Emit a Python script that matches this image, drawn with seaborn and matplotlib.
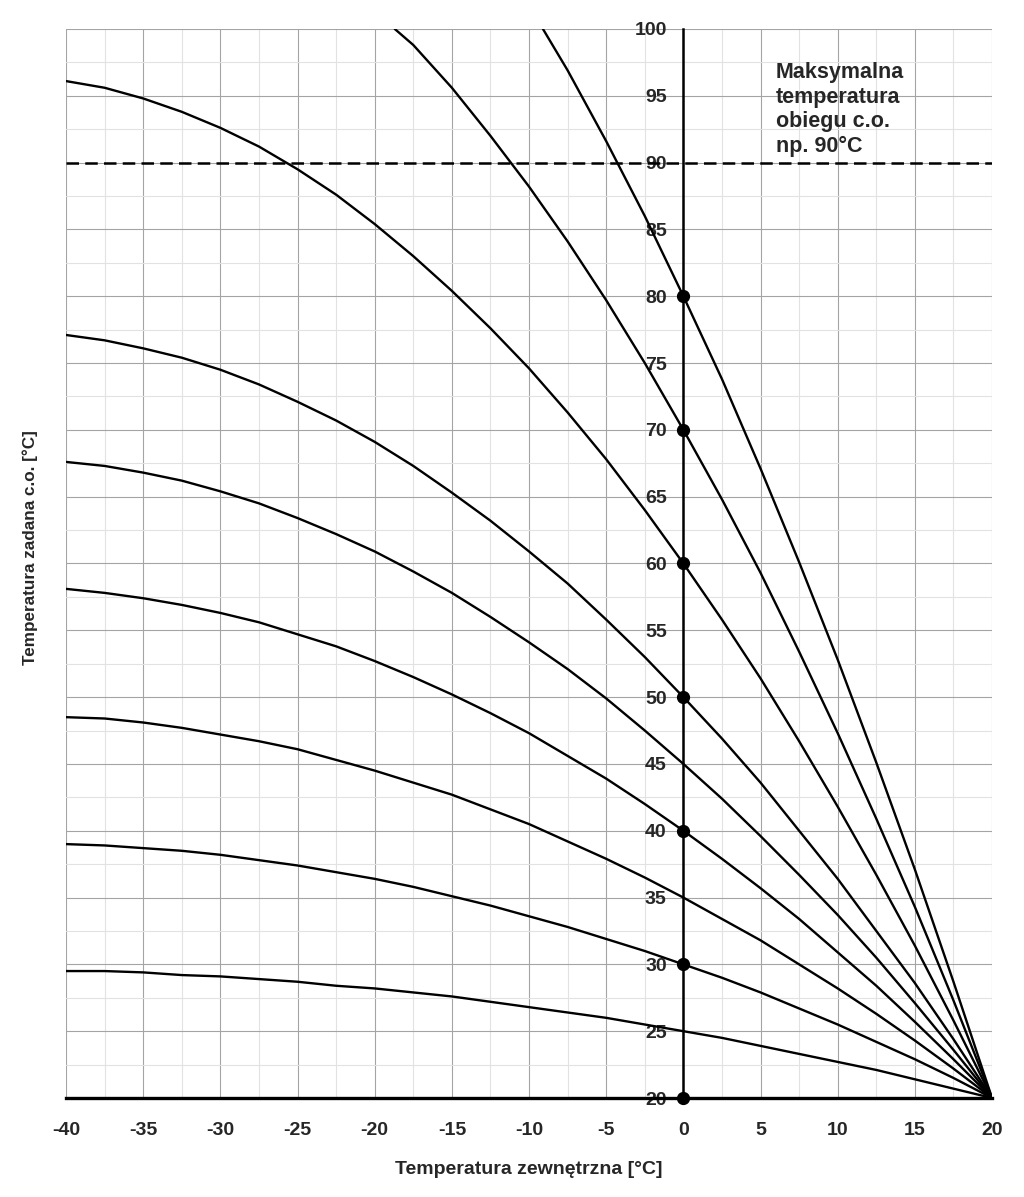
import numpy as np
import pandas as pd
import matplotlib
matplotlib.use('Agg')
import matplotlib.pyplot as plt
import seaborn as sns
from matplotlib.ticker import MultipleLocator

# temperatura zewnetrzna - punkty odczytu co 2.5 st.C
x_full = [-40, -37.5, -35, -32.5, -30, -27.5, -25, -22.5, -20, -17.5, -15, -12.5, -10,
          -7.5, -5, -2.5, 0, 2.5, 5, 7.5, 10, 12.5, 15, 17.5, 20]

# krzywe grzewcze (wartosci)
k25 = [29.5, 29.5, 29.4, 29.2, 29.1, 28.9, 28.7, 28.4, 28.2, 27.9, 27.6, 27.2, 26.8,
       26.4, 26.0, 25.5, 25.0, 24.5, 23.9, 23.3, 22.7, 22.1, 21.4, 20.7, 20.0]
k30 = [39.0, 38.9, 38.7, 38.5, 38.2, 37.8, 37.4, 36.9, 36.4, 35.8, 35.1, 34.4, 33.6,
       32.8, 31.9, 31.0, 30.0, 29.0, 27.9, 26.7, 25.5, 24.2, 22.9, 21.5, 20.0]
k35 = [48.5, 48.4, 48.1, 47.7, 47.2, 46.7, 46.1, 45.3, 44.5, 43.6, 42.7, 41.6, 40.5,
       39.2, 37.9, 36.5, 35.0, 33.4, 31.8, 30.0, 28.2, 26.3, 24.3, 22.2, 20.0]
k40 = [58.1, 57.8, 57.4, 56.9, 56.3, 55.6, 54.7, 53.8, 52.7, 51.5, 50.2, 48.8, 47.3,
       45.6, 43.9, 42.0, 40.0, 37.9, 35.7, 33.4, 30.9, 28.4, 25.7, 22.9, 20.0]
k45 = [67.6, 67.3, 66.8, 66.2, 65.4, 64.5, 63.4, 62.2, 60.9, 59.4, 57.8, 56.0, 54.1,
       52.1, 49.9, 47.5, 45.0, 42.4, 39.6, 36.7, 33.7, 30.5, 27.1, 23.6, 20.0]
k50 = [77.1, 76.7, 76.1, 75.4, 74.5, 73.4, 72.1, 70.7, 69.1, 67.3, 65.3, 63.2, 60.9,
       58.5, 55.8, 53.0, 50.0, 46.9, 43.6, 40.0, 36.4, 32.5, 28.6, 24.4, 20.0]
k60 = [96.1, 95.6, 94.8, 93.8, 92.6, 91.2, 89.5, 87.6, 85.4, 83.0, 80.4, 77.6, 74.6,
       71.3, 67.8, 64.0, 60.0, 55.8, 51.4, 46.7, 41.8, 36.7, 31.4, 25.8, 20.0]
# dwie najbardziej strome krzywe wychodza poza wykres u gory
x70 = [-18.7, -17.5, -15, -12.5, -10, -7.5, -5, -2.5, 0, 2.5, 5, 7.5, 10, 12.5, 15, 17.5, 20]
k70 = [100.0, 98.8, 95.6, 92.0, 88.2, 84.1, 79.7, 75.0, 70.0, 64.8, 59.3, 53.4, 47.3,
       40.9, 34.3, 27.3, 20.0]
x80 = [-9.1, -7.5, -5, -2.5, 0, 2.5, 5, 7.5, 10, 12.5, 15, 17.5, 20]
k80 = [100.0, 96.9, 91.6, 86.0, 80.0, 73.8, 67.1, 60.1, 52.8, 45.1, 37.1, 28.7, 20.0]

# punkty na osi 0 st.C
dot_y = [20, 30, 40, 50, 60, 70, 80]
t_max = 90

rows = []
for name, xs, ys in [('25', x_full, k25), ('30', x_full, k30), ('35', x_full, k35),
                     ('40', x_full, k40), ('45', x_full, k45), ('50', x_full, k50),
                     ('60', x_full, k60), ('70', x70, k70), ('80', x80, k80)]:
    for a, b in zip(xs, ys):
        rows.append({'krzywa': name, 'tz': a, 'tco': b})
df = pd.DataFrame(rows)

sns.set_style('white')
plt.rcParams['font.family'] = ['Liberation Sans', 'DejaVu Sans']
plt.rcParams['font.weight'] = 'bold'
plt.rcParams['axes.unicode_minus'] = False

fig = plt.figure(figsize=(10.24, 11.97), dpi=100)
ax = fig.add_axes([0.0645, 0.0827, 0.9043, 0.8931])

ax.set_xlim(-40, 20)
ax.set_ylim(20, 100)
ax.xaxis.set_major_locator(MultipleLocator(5))
ax.xaxis.set_minor_locator(MultipleLocator(2.5))
ax.yaxis.set_major_locator(MultipleLocator(5))
ax.yaxis.set_minor_locator(MultipleLocator(2.5))
ax.grid(which='major', color='#a4a4a4', linewidth=0.8)
ax.grid(which='minor', color='#e2e2e2', linewidth=0.8)
ax.set_axisbelow(True)

sns.lineplot(data=df, x='tz', y='tco', units='krzywa', estimator=None, sort=False,
             color='black', linewidth=1.7, ax=ax)

ax.axhline(t_max, color='black', linewidth=1.8, linestyle=(0, (5, 2.5)), zorder=3)
ax.plot([0] * len(dot_y), dot_y, 'o', color='black', markersize=8.5, zorder=5, clip_on=False)

# os y przesunieta na 0 st.C
ax.spines['left'].set_position(('data', 0))
ax.spines['left'].set_color('black')
ax.spines['left'].set_linewidth(1.8)
ax.spines['bottom'].set_color('black')
ax.spines['bottom'].set_linewidth(2.4)
ax.spines['top'].set_visible(False)
ax.spines['right'].set_visible(False)

ax.set_xticks(range(-40, 21, 5))
ax.set_xticklabels([str(v) for v in range(-40, 21, 5)])
ax.set_yticks(range(20, 101, 5))
ax.set_yticklabels([str(v) for v in range(20, 101, 5)])
ax.tick_params(axis='x', which='both', length=4, color='#a4a4a4', pad=13, labelsize=14)
ax.tick_params(axis='y', which='both', length=0, pad=12, labelsize=14)
for t in ax.get_xticklabels() + ax.get_yticklabels():
    t.set_fontweight('bold')

ax.set_xlabel('Temperatura zewnętrzna [°C]', fontsize=14, fontweight='bold', labelpad=16)
ax.set_ylabel('Temperatura zadana c.o. [°C]', fontsize=12.3, fontweight='bold')
ax.yaxis.set_label_coords(-0.030, 0.515)

ax.text(6.0, 97.5, 'Maksymalna\ntemperatura\nobiegu c.o.\nnp. 90°C', fontsize=15.5,
        fontweight='bold', ha='left', va='top', linespacing=1.22)

plt.savefig('out.png', dpi=100)
